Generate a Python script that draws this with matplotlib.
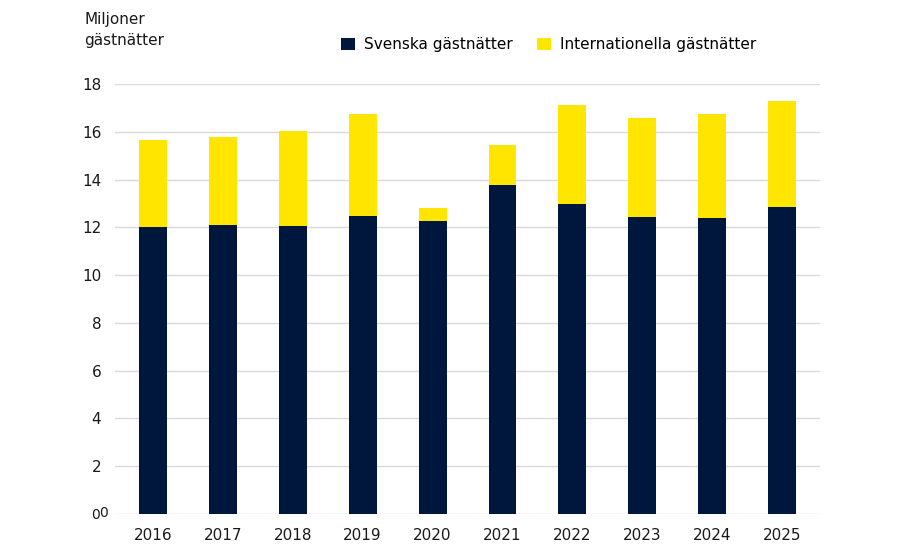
import matplotlib.pyplot as plt
import numpy as np

# data (millions of guest nights)
years = ["2016", "2017", "2018", "2019", "2020", "2021", "2022", "2023", "2024", "2025"]
swedish = [12.01, 12.12, 12.08, 12.50, 12.26, 13.79, 13.00, 12.45, 12.38, 12.85]
international = [3.65, 3.66, 3.97, 4.24, 0.55, 1.66, 4.15, 4.15, 4.36, 4.44]
yticks = [0, 2, 4, 6, 8, 10, 12, 14, 16, 18]

navy = "#00173d"
yellow = "#ffe500"
txt = "#1a1a1a"

plt.rcParams['font.family'] = ['DejaVu Sans']

fig = plt.figure(figsize=(9, 5.58), dpi=100)
ax = fig.add_axes([0.128, 0.079, 0.783, 0.770])

x = np.arange(len(years))
ax.bar(x, swedish, width=0.4, color=navy, label="Svenska gästnätter", zorder=3)
ax.bar(x, international, width=0.4, bottom=swedish, color=yellow,
       label="Internationella gästnätter", zorder=3)

ax.set_ylim(0, 18)
ax.set_xlim(-0.54, len(years) - 0.46)
ax.set_yticks(yticks)
# the zero is drawn separately below (it shows up doubled in the original)
ax.set_yticklabels([str(v) if v != 0 else "" for v in yticks], fontsize=11)
ax.set_xticks(x)
ax.set_xticklabels(years, fontsize=11)
ax.tick_params(axis='both', length=0, colors=txt)
ax.tick_params(axis='y', pad=10)
ax.tick_params(axis='x', pad=10)
ax.grid(axis='y', color="#d9d9d9", linewidth=1, zorder=0)
for s in ax.spines.values():
    s.set_visible(False)

# doubled zero at the origin, slightly offset
ax.annotate("0", xy=(0, 0), xycoords=('axes fraction', 'data'),
            xytext=(-5, 1), textcoords='offset points',
            ha='right', va='center', fontsize=10, color=txt)
ax.annotate("0", xy=(0, 0), xycoords=('axes fraction', 'data'),
            xytext=(-11.2, -1), textcoords='offset points',
            ha='right', va='center', fontsize=10, color=txt)

fig.text(0.094, 0.978, "Miljoner\ngästnätter", fontsize=11, ha='left', va='top',
         color=txt, linespacing=1.45)

fig.legend(loc='center', bbox_to_anchor=(0.61, 0.92), ncol=2, frameon=False,
           fontsize=11, handlelength=0.9, handleheight=0.9, handletextpad=0.6,
           columnspacing=1.6)

fig.savefig("out.png", dpi=100)
